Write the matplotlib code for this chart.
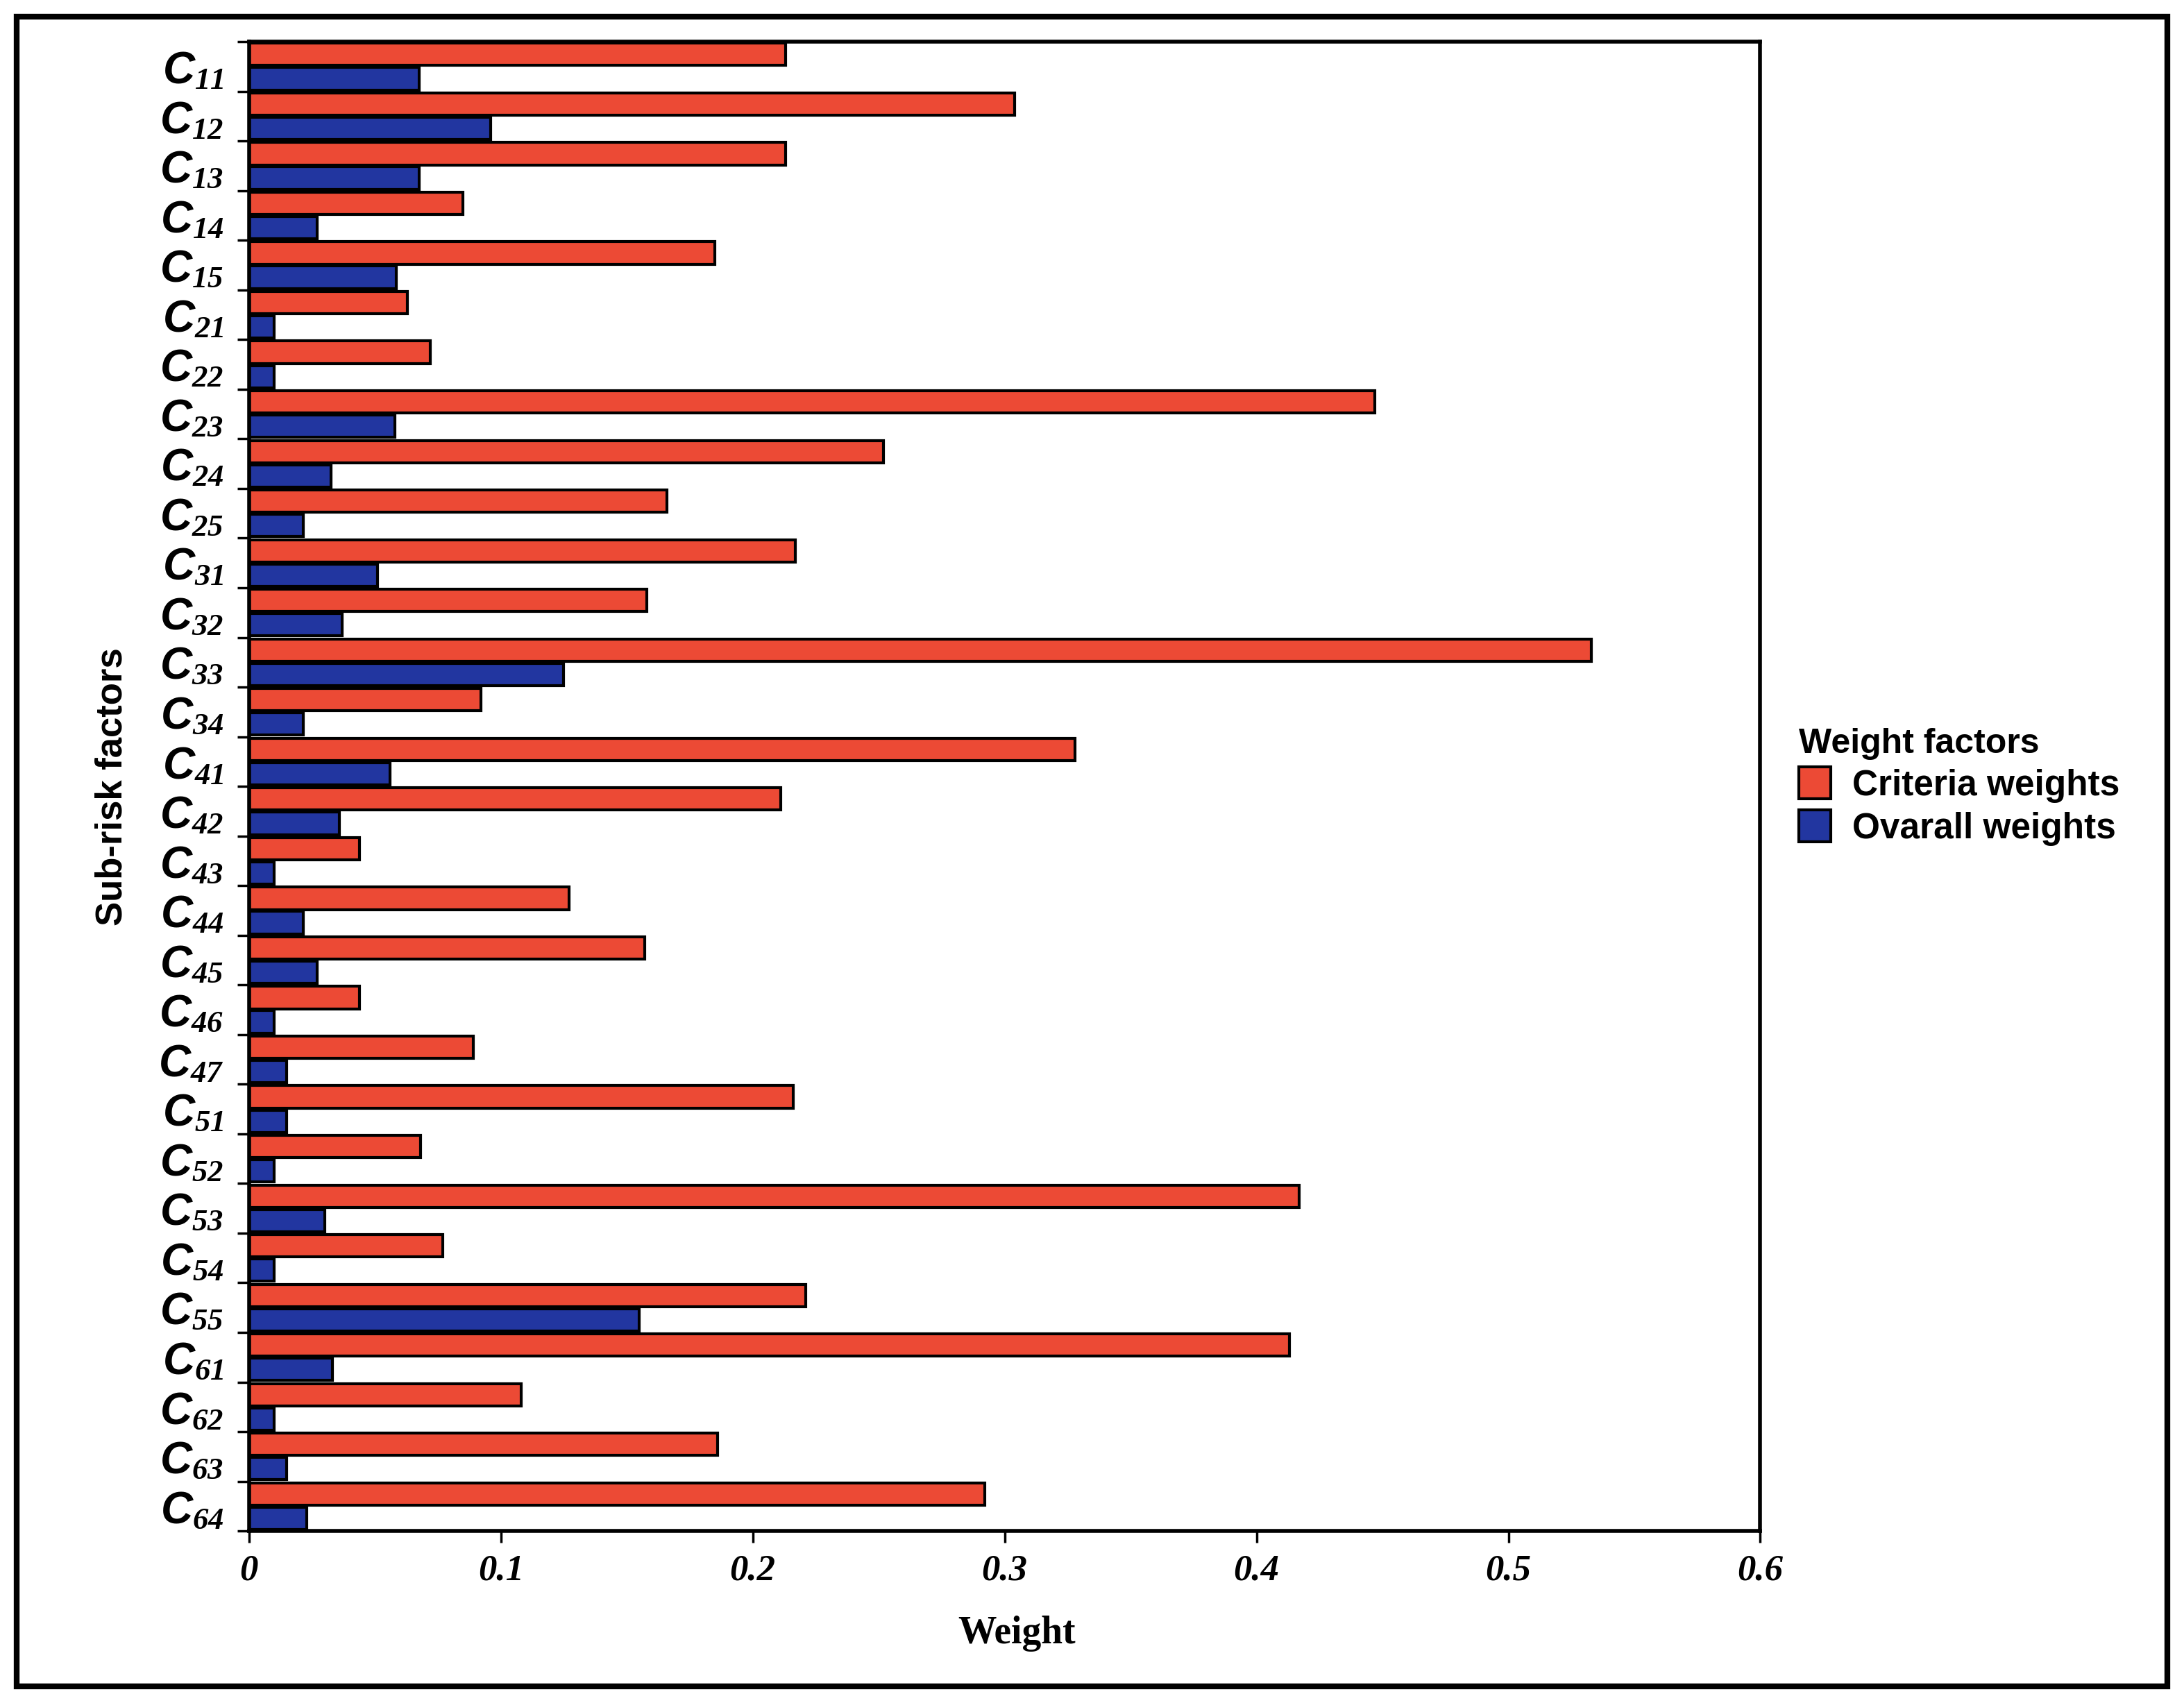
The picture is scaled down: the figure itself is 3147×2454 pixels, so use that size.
import numpy as np
import matplotlib
matplotlib.use('Agg')
import matplotlib.pyplot as plt
from matplotlib.patches import Rectangle, Patch

# sub-risk factor codes, top to bottom
codes = ['11', '12', '13', '14', '15', '21', '22', '23', '24', '25',
         '31', '32', '33', '34', '41', '42', '43', '44', '45', '46',
         '47', '51', '52', '53', '54', '55', '61', '62', '63', '64']

criteria = [0.213, 0.304, 0.213, 0.085, 0.185, 0.063, 0.072, 0.447, 0.252, 0.166,
            0.217, 0.158, 0.533, 0.092, 0.328, 0.211, 0.044, 0.127, 0.157, 0.044,
            0.089, 0.216, 0.068, 0.417, 0.077, 0.221, 0.413, 0.108, 0.186, 0.292]

overall = [0.0675, 0.096, 0.0675, 0.027, 0.0586, 0.010, 0.010, 0.058, 0.0326, 0.0216,
           0.051, 0.037, 0.125, 0.0216, 0.056, 0.036, 0.010, 0.0216, 0.027, 0.010,
           0.015, 0.015, 0.010, 0.030, 0.010, 0.155, 0.033, 0.010, 0.015, 0.023]

xticks = [0, 0.1, 0.2, 0.3, 0.4, 0.5, 0.6]

plt.rcParams['mathtext.fontset'] = 'custom'
plt.rcParams['mathtext.it'] = 'Liberation Serif:italic:bold'
plt.rcParams['mathtext.sf'] = 'Liberation Sans:italic:bold'
plt.rcParams['mathtext.rm'] = 'Liberation Serif:italic:bold'

red = '#ec4a35'
blue = '#2236a0'

fig = plt.figure(figsize=(31.47, 24.54), dpi=100)
ax = fig.add_axes([0.114, 0.101, 0.692, 0.8745])

n = len(codes)
pos = np.arange(n)
ax.barh(pos + 0.255, criteria, height=0.45, color=red, edgecolor='black', linewidth=3)
ax.barh(pos + 0.745, overall, height=0.45, color=blue, edgecolor='black', linewidth=3)

ax.set_xlim(0, 0.6)
ax.set_ylim(n, 0)

ax.set_xticks(xticks)
ax.set_xticklabels([f'{t:g}' for t in xticks], family='Liberation Serif',
                   fontweight='bold', fontstyle='italic', fontsize=38)
ax.tick_params(axis='x', length=12, width=2.5, pad=12, direction='out')

ax.set_yticks(np.arange(n + 1))
ax.set_yticklabels([])
ax.set_yticks(pos + 0.5, minor=True)
ax.set_yticklabels([r'$\mathsf{C}_{\mathit{' + c + '}}$' for c in codes], minor=True, fontsize=46)
ax.tick_params(axis='y', which='major', length=12, width=2.5, direction='out')
ax.tick_params(axis='y', which='minor', length=0, pad=26)

for s in ax.spines.values():
    s.set_linewidth(4)

ax.set_xlabel('Weight', family='Liberation Serif', fontweight='bold', fontsize=40, labelpad=30)
ax.xaxis.set_label_coords(0.508, -0.057)
ax.set_ylabel('Sub-risk factors', family='Liberation Sans', fontweight='bold', fontsize=38, labelpad=30)

handles = [Patch(facecolor=red, edgecolor='black', linewidth=3, label='Criteria weights'),
           Patch(facecolor=blue, edgecolor='black', linewidth=3, label='Ovarall weights')]
leg = fig.legend(handles=handles, title='Weight factors', loc='center left',
                 bbox_to_anchor=(0.809, 0.538), frameon=False,
                 prop={'family': 'Liberation Sans', 'weight': 'bold', 'size': 37},
                 handlelength=0.9, handleheight=1.0, handletextpad=0.6, labelspacing=0.2,
                 alignment='left')
leg.get_title().set_fontfamily('Liberation Sans')
leg.get_title().set_fontweight('bold')
leg.get_title().set_fontsize(36)

fig.patches.append(Rectangle((0.0076, 0.0098), 0.9848, 0.9804, transform=fig.transFigure,
                             fill=False, edgecolor='black', linewidth=6))

fig.savefig('out.png', dpi=100)
